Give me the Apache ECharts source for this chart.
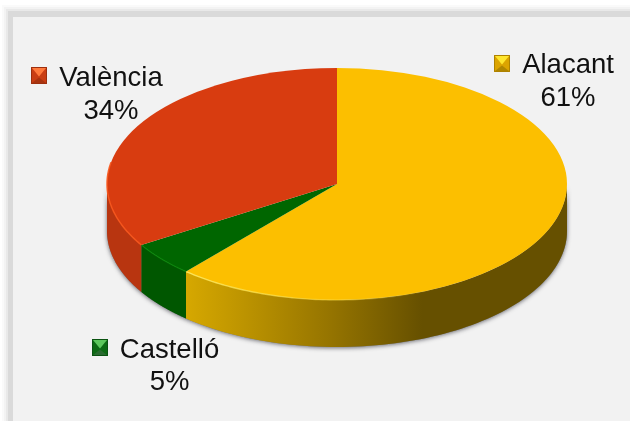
<!DOCTYPE html>
<html>
<head>
<meta charset="utf-8">
<style>
html, body { margin: 0; padding: 0; background: #fff; }
#pie3d { width: 630px; height: 421px; }
</style>
<script src="https://cdn.jsdelivr.net/npm/echarts@6/dist/echarts.min.js"></script>
</head>
<body>
<div id="pie3d"></div>
<script>
// dades (llegides de la imatge, l'etiqueta mostra el valor arrodonit)
var categories = ['Alacant', 'Castelló', 'València'];
var percents = [61.4, 4.8, 33.8];

// geometria de la pastissa
var CX = 337, CY = 184, RX = 230, RY = 116, DEPTH = 47;
var FONT = '"Liberation Sans", sans-serif';

var topColors = ['#fcbf00', '#006600', '#d83c10'];
var wallColors = [null, '#005700', '#b83510'];
var legendColors = [
    { base: '#dca400', light: '#ffe62e', dark: '#b08600', edge: '#9a7400' },
    { base: '#0d6a14', light: '#5cc75c', dark: '#2a6a30', edge: '#0a4a10' },
    { base: '#c93e14', light: '#ff7a3c', dark: '#a83410', edge: '#8a2a0c' }
];
var labelPos = [
    { mx: 494, my: 55, tx: 568, ny: 65, py: 98 },
    { mx: 92, my: 339, tx: 169.5, ny: 350, py: 382 },
    { mx: 31, my: 67, tx: 111, ny: 78, py: 111 }
];

function ellipsePoint(theta, dy) {
    return [CX + RX * Math.sin(theta), CY + dy - RY * Math.cos(theta)];
}

function arcPoints(from, to, dy) {
    var pts = [], n = 80;
    for (var i = 0; i <= n; i++) {
        pts.push(ellipsePoint(from + (to - from) * i / n, dy));
    }
    return pts;
}

function wallPoints(from, to) {
    return arcPoints(from, to, 0).concat(arcPoints(to, from, DEPTH));
}

function marker(c, x, y) {
    var w = 16, h = 17;
    return {
        type: 'group', x: x, y: y,
        children: [
            { type: 'rect', shape: { x: 0, y: 0, width: w, height: h }, style: { fill: c.base } },
            { type: 'polygon', shape: { points: [[1, 1], [w - 1, 1], [w / 2, h / 2 + 1]] }, style: { fill: c.light } },
            { type: 'polygon', shape: { points: [[1, h - 1], [w - 1, h - 1], [w / 2, h / 2 + 2]] }, style: { fill: c.dark } },
            { type: 'rect', shape: { x: 0.5, y: 0.5, width: w - 1, height: h - 1 }, style: { fill: 'none', stroke: c.edge, lineWidth: 1, opacity: 0.7 } }
        ]
    };
}

var total = percents.reduce(function (a, b) { return a + b; }, 0);

function renderSlice(params, api) {
    var i = params.dataIndex;
    var before = 0;
    for (var k = 0; k < i; k++) { before += percents[k]; }
    var from = before / total * Math.PI * 2;
    var to = (before + api.value(1)) / total * Math.PI * 2;

    var children = [];
    // ombra sota tota la paret frontal
    if (i === 0) {
        children.push({
            type: 'polygon',
            shape: { points: wallPoints(Math.PI / 2, Math.PI * 1.5) },
            style: { fill: '#777', shadowBlur: 4, shadowColor: 'rgba(50,50,60,0.7)', shadowOffsetY: 1 }
        });
    }
    // paret: nomes la part frontal
    var wFrom = Math.max(from, Math.PI / 2);
    var wTo = Math.min(to, Math.PI * 1.5);
    if (wTo > wFrom) {
        var fill = wallColors[i] || new echarts.graphic.LinearGradient(0, 0, 1, 0, [
            { offset: 0, color: '#d6a800' },
            { offset: 0.12, color: '#c29800' },
            { offset: 0.38, color: '#957400' },
            { offset: 0.62, color: '#665000' },
            { offset: 1, color: '#665000' }
        ]);
        children.push({
            type: 'polygon',
            shape: { points: wallPoints(wFrom, wTo) },
            style: { fill: fill }
        });
    }
    // tapa: sector circular aplanat amb el grup
    children.push({
        type: 'group',
        x: CX, y: CY, scaleY: RY / RX,
        children: [{
            type: 'sector',
            shape: { cx: 0, cy: 0, r: RX, r0: 0, startAngle: from - Math.PI / 2, endAngle: to - Math.PI / 2, clockwise: true },
            style: { fill: topColors[i] }
        }]
    });
    // vora clara de la tapa
    if (i === 0) {
        children.push({
            type: 'polyline',
            shape: { points: arcPoints(Math.PI * 0.85, to, 0) },
            style: {
                fill: 'none', lineWidth: 1.4,
                stroke: new echarts.graphic.LinearGradient(0, 0, 1, 0, [
                    { offset: 0, color: 'rgba(255,232,90,0.95)' },
                    { offset: 1, color: 'rgba(255,225,60,0)' }
                ])
            }
        });
    } else if (i === 1) {
        children.push({
            type: 'polyline',
            shape: { points: arcPoints(from, to, 0) },
            style: { fill: 'none', stroke: '#0a8a0a', lineWidth: 1.2, opacity: 0.8 }
        });
    } else {
        children.push({
            type: 'polyline',
            shape: { points: arcPoints(from, Math.PI * 1.56, 0) },
            style: { fill: 'none', stroke: '#f8561c', lineWidth: 1.5, opacity: 0.9 }
        });
    }
    // llegenda i etiqueta
    var p = labelPos[i];
    children.push(marker(legendColors[i], p.mx, p.my));
    children.push({
        type: 'text',
        style: { x: p.tx, y: p.ny, text: categories[i], font: '27.5px ' + FONT, fill: '#111', align: 'center', verticalAlign: 'middle' }
    });
    children.push({
        type: 'text',
        style: { x: p.tx, y: p.py, text: Math.round(api.value(1)) + '%', font: '27.5px ' + FONT, fill: '#111', align: 'center', verticalAlign: 'middle' }
    });
    return { type: 'group', children: children };
}

var pie3d = echarts.init(document.getElementById('pie3d'));
pie3d.setOption({
    animation: false,
    backgroundColor: '#ffffff',
    graphic: [
        { type: 'rect', z: -5, shape: { x: 2, y: 5, width: 640, height: 430 }, style: { fill: '#fafafa' } },
        { type: 'rect', z: -4, shape: { x: 4, y: 7, width: 640, height: 430 }, style: { fill: '#f3f3f3' } },
        { type: 'rect', z: -3, shape: { x: 6, y: 9, width: 640, height: 430 }, style: { fill: '#e9e9e9' } },
        { type: 'rect', z: -2, shape: { x: 8, y: 11, width: 640, height: 430 }, style: { fill: '#dadada' } },
        { type: 'rect', z: -1, shape: { x: 13, y: 17, width: 640, height: 430 }, style: { fill: '#f2f2f2' } }
    ],
    series: [{
        type: 'custom',
        coordinateSystem: 'none',
        silent: true,
        renderItem: renderSlice,
        data: percents.map(function (v, i) { return [i, v]; })
    }]
});
</script>
</body>
</html>
